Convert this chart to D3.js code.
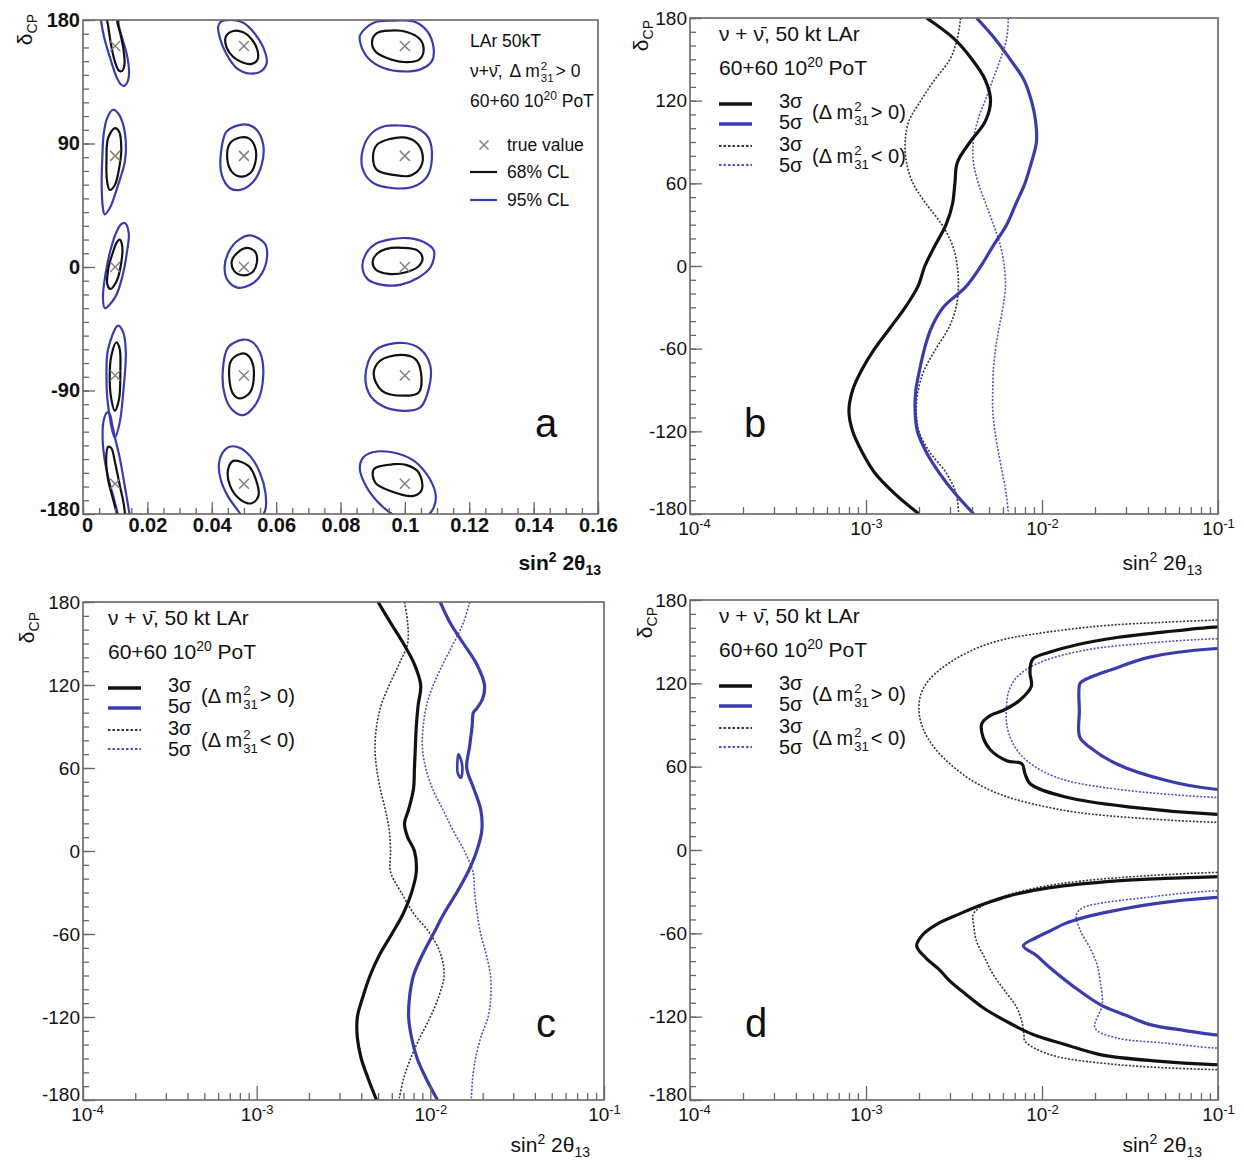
<!DOCTYPE html>
<html><head><meta charset="utf-8">
<script src="https://cdn.jsdelivr.net/npm/d3@7"></script>
<style>
body{margin:0;background:#fff;}
text{font-family:"Liberation Sans",Arial,Helvetica,sans-serif;fill:#111;}
</style></head>
<body>
<svg id="chart" width="1244" height="1166" xmlns="http://www.w3.org/2000/svg"></svg>
<script>
// ================= DATA =================
const deltaMajorA = [-180, -90, 0, 90, 180];
const deltaMajor = [-180, -120, -60, 0, 60, 120, 180];
const sinTicksA = [0, 0.02, 0.04, 0.06, 0.08, 0.1, 0.12, 0.14, 0.16];
const logDecades = [1e-4, 1e-3, 1e-2, 1e-1];
const logExponents = ["-4", "-3", "-2", "-1"];

// panel a: true values [sin^2 2theta13, deltaCP]
const trueValues = [[0.01,161],[0.05,161],[0.1,161],[0.01,81],[0.05,81],[0.1,81],[0.01,0],[0.05,0],[0.1,0],[0.01,-79],[0.05,-79],[0.1,-79],[0.01,-158],[0.05,-158],[0.1,-158]];

// panel a: 95% CL contours [x, delta]
const a95_r1c1 = [[0.0054,188],[0.0057,178],[0.0066,167],[0.0078,157],[0.0090,148],[0.0105,138],[0.0118,133],[0.0128,132],[0.0140,136],[0.0143,143],[0.0136,155],[0.0123,166],[0.0111,176],[0.0104,188]];
const a95_r1c2 = [[0.0420,175],[0.0425,167],[0.0446,155],[0.0477,145],[0.0519,141],[0.0555,143],[0.0571,149],[0.0560,160],[0.0534,170],[0.0498,178],[0.0457,180],[0.0427,178.5]];
const a95_r1c3 = [[0.0861,169],[0.0903,178],[0.0965,179.5],[0.1027,179],[0.1069,172],[0.1089,160],[0.1084,150],[0.1048,144],[0.0996,142.5],[0.0934,145],[0.0887,152],[0.0863,162]];
const a95_r2c1 = [[0.0093,114.6],[0.0075,108.5],[0.0064,96.3],[0.0060,79.3],[0.0058,59.8],[0.0062,42.8],[0.0067,38.4],[0.0083,42.8],[0.0109,59.8],[0.0130,76.8],[0.0133,91.4],[0.0122,106],[0.0109,112]];
const a95_r2c2 = [[0.0488,103.6],[0.0446,98.7],[0.0429,84.1],[0.0431,67.1],[0.0457,57.4],[0.0488,56.2],[0.0529,62.2],[0.0555,74.4],[0.0560,89],[0.0540,99.9],[0.0514,103.6]];
const a95_r2c3 = [[0.0934,102.4],[0.0892,96.3],[0.0866,81.7],[0.0872,69.5],[0.0903,61],[0.0965,57.4],[0.1027,58.6],[0.1069,65.9],[0.1084,79.3],[0.1074,93.9],[0.1038,101.2],[0.0986,103.1]];
const a95_r3c1 = [[0.0130,32],[0.0142,25],[0.0136,10],[0.0121,-8],[0.0100,-22],[0.0068,-30],[0.0062,-22],[0.0070,-5],[0.0085,12],[0.0105,26],[0.0118,31]];
const a95_r3c2 = [[0.0520,23],[0.0565,17],[0.0572,8],[0.0555,-5],[0.0520,-13],[0.0480,-15],[0.0450,-10],[0.0440,0],[0.0455,12],[0.0485,20]];
const a95_r3c3 = [[0.0950,20],[0.1010,21],[0.1060,18],[0.1090,12],[0.1080,0],[0.1040,-8],[0.0985,-13],[0.0930,-13],[0.0885,-9],[0.0868,0],[0.0880,10],[0.0910,17]];
const a95_r4c1 = [[0.0109,-42.7],[0.0078,-59.8],[0.0073,-79.2],[0.0078,-101.1],[0.0099,-124.2],[0.0114,-113.3],[0.0125,-91.4],[0.0133,-62.2],[0.0125,-47.6]];
const a95_r4c2 = [[0.0498,-52.9],[0.0451,-58.5],[0.0434,-76.8],[0.0441,-93.8],[0.0462,-103.6],[0.0498,-107.9],[0.0540,-98.7],[0.0560,-79.2],[0.0550,-62.2],[0.0524,-54.4]];
const a95_r4c3 = [[0.0996,-55.4],[0.0913,-59.8],[0.0880,-74.4],[0.0887,-91.4],[0.0929,-101.1],[0.0996,-104.8],[0.1048,-102.3],[0.1074,-89],[0.1079,-71.9],[0.1048,-59.8]];
const a95_r5c1 = [[0.0075,-106],[0.0064,-112],[0.0061,-125],[0.0067,-140],[0.0080,-155],[0.0095,-168],[0.0108,-180],[0.0115,-190],[0.0150,-190],[0.0143,-178],[0.0130,-160],[0.0115,-140],[0.0100,-125],[0.0090,-114],[0.0083,-107]];
const a95_r5c2 = [[0.0455,-131],[0.0432,-136],[0.0422,-144],[0.0428,-155],[0.0450,-167],[0.0480,-177],[0.0505,-184],[0.0540,-184],[0.0565,-178],[0.0567,-165],[0.0550,-150],[0.0520,-138],[0.0490,-132]];
const a95_r5c3 = [[0.0900,-135],[0.0870,-139],[0.0860,-147],[0.0880,-160],[0.0915,-171],[0.0960,-180],[0.1000,-185],[0.1060,-183],[0.1090,-175],[0.1095,-165],[0.1065,-150],[0.1020,-140],[0.0960,-135]];

// panel a: 68% CL contours [x, delta]
const a68_r1c1 = [[0.0074,184],[0.0078,176],[0.0088,161],[0.0100,149],[0.0112,143],[0.0122,143],[0.0129,148],[0.0126,158],[0.0118,168],[0.0108,177],[0.0100,184]];
const a68_r1c2 = [[0.0467,172],[0.0444,168],[0.0446,160],[0.0467,153],[0.0496,149],[0.0524,148],[0.0542,151],[0.0542,158],[0.0524,166],[0.0498,171]];
const a68_r1c3 = [[0.0898,164.5],[0.0913,170.5],[0.0955,172.3],[0.1006,171.3],[0.1048,165.7],[0.1058,157.2],[0.1043,151],[0.0996,149.4],[0.0944,152.3],[0.0908,157.2]];
const a68_r2c1 = [[0.0099,101.2],[0.0078,93.9],[0.0073,79.3],[0.0075,62.2],[0.0083,56.2],[0.0099,59.8],[0.0114,74.4],[0.0119,86.6],[0.0112,98.7]];
const a68_r2c2 = [[0.0488,94.4],[0.0457,90.2],[0.0448,79.3],[0.0462,69.5],[0.0488,65.9],[0.0519,68.3],[0.0536,76.8],[0.0534,87.8],[0.0514,93.9]];
const a68_r2c3 = [[0.0955,93.4],[0.0913,89],[0.0901,79.3],[0.0913,70.8],[0.0965,67.1],[0.1017,66.6],[0.1050,73.2],[0.1053,84.1],[0.1032,91.4],[0.0996,94.4]];
const a68_r3c1 = [[0.0114,20],[0.0122,15],[0.0118,2],[0.0105,-10],[0.0085,-16],[0.0076,-13],[0.0078,-2],[0.0092,10],[0.0105,18]];
const a68_r3c2 = [[0.0508,14],[0.0535,11],[0.0540,3],[0.0525,-4],[0.0495,-6],[0.0470,-3],[0.0462,4],[0.0478,10]];
const a68_r3c3 = [[0.0940,13],[0.0990,14],[0.1040,12],[0.1055,6],[0.1040,0],[0.1000,-4],[0.0950,-5],[0.0910,-2],[0.0900,4],[0.0915,10]];
const a68_r4c1 = [[0.0104,-54.9],[0.0088,-64.6],[0.0083,-79.2],[0.0088,-96.3],[0.0099,-104.8],[0.0112,-96.3],[0.0116,-76.8],[0.0114,-59.8]];
const a68_r4c2 = [[0.0488,-63.4],[0.0460,-68.3],[0.0454,-79.2],[0.0467,-92.6],[0.0488,-95.8],[0.0519,-91.4],[0.0531,-79.2],[0.0524,-68.3],[0.0506,-63.4]];
const a68_r4c3 = [[0.0986,-64.1],[0.0923,-68.3],[0.0903,-78],[0.0929,-90.2],[0.0996,-93.8],[0.1043,-91.4],[0.1050,-76.8],[0.1032,-67]];
const a68_r5c1 = [[0.0078,-131],[0.0072,-140],[0.0078,-155],[0.0092,-168],[0.0105,-180],[0.0110,-186],[0.0128,-186],[0.0128,-175],[0.0115,-160],[0.0100,-143],[0.0088,-132]];
const a68_r5c2 = [[0.0467,-141.3],[0.0451,-147.4],[0.0457,-159.5],[0.0488,-169.3],[0.0524,-172.2],[0.0545,-166.8],[0.0537,-154.7],[0.0514,-144.9]];
const a68_r5c3 = [[0.0965,-143.7],[0.0903,-147.4],[0.0908,-157.1],[0.0955,-163.2],[0.1027,-166.8],[0.1053,-162],[0.1043,-149.8],[0.1006,-144.4]];

// panel b: [deltaCP, sin^2 2theta13]
const b_3sigma_NH = [[180,2.21e-3],[165,3.16e-3],[150,4.0e-3],[135,4.76e-3],[120,5.1e-3],[105,4.76e-3],[90,3.9e-3],[75,3.3e-3],[60,3.2e-3],[45,3.1e-3],[30,2.85e-3],[15,2.47e-3],[0,2.16e-3],[-15,1.97e-3],[-30,1.67e-3],[-45,1.37e-3],[-60,1.12e-3],[-75,0.95e-3],[-90,0.84e-3],[-105,0.80e-3],[-120,0.84e-3],[-135,0.95e-3],[-150,1.12e-3],[-165,1.45e-3],[-180,2.0e-3]];
const b_5sigma_NH = [[180,4.25e-3],[165,5.4e-3],[150,6.6e-3],[135,7.9e-3],[120,8.7e-3],[105,9.2e-3],[90,9.3e-3],[75,8.7e-3],[60,8.0e-3],[45,7.1e-3],[30,6.3e-3],[15,5.3e-3],[0,4.5e-3],[-15,3.7e-3],[-30,2.75e-3],[-45,2.35e-3],[-60,2.15e-3],[-75,2.02e-3],[-90,1.92e-3],[-105,1.9e-3],[-120,1.96e-3],[-135,2.2e-3],[-150,2.6e-3],[-165,3.2e-3],[-180,4.1e-3]];
const b_3sigma_IH = [[180,3.45e-3],[165,3.3e-3],[150,3.0e-3],[135,2.45e-3],[120,2.05e-3],[105,1.75e-3],[90,1.67e-3],[75,1.7e-3],[60,1.85e-3],[45,2.2e-3],[30,2.7e-3],[15,3.1e-3],[0,3.3e-3],[-15,3.35e-3],[-30,3.25e-3],[-45,2.95e-3],[-60,2.5e-3],[-75,2.15e-3],[-90,1.98e-3],[-105,1.93e-3],[-120,2.0e-3],[-135,2.3e-3],[-150,2.85e-3],[-165,3.25e-3],[-180,3.36e-3]];
const b_5sigma_IH = [[180,6.44e-3],[165,6.3e-3],[150,5.8e-3],[135,5.25e-3],[120,4.75e-3],[105,4.3e-3],[90,4.07e-3],[75,4.08e-3],[60,4.35e-3],[45,4.8e-3],[30,5.3e-3],[15,5.8e-3],[0,6.1e-3],[-15,6.2e-3],[-30,6.0e-3],[-45,5.7e-3],[-60,5.45e-3],[-75,5.3e-3],[-90,5.25e-3],[-105,5.25e-3],[-120,5.4e-3],[-135,5.65e-3],[-150,5.95e-3],[-165,6.25e-3],[-180,6.45e-3]];

// panel c: [deltaCP, sin^2 2theta13]
const c_3sigma_NH = [[180,5.0e-3],[165,5.9e-3],[150,7.0e-3],[135,8.1e-3],[120,8.8e-3],[105,8.5e-3],[90,8.3e-3],[75,8.2e-3],[60,8.1e-3],[45,8.0e-3],[30,7.5e-3],[20,7.1e-3],[10,7.4e-3],[0,8.1e-3],[-15,8.3e-3],[-30,7.8e-3],[-45,7.0e-3],[-60,6.0e-3],[-75,5.1e-3],[-90,4.5e-3],[-105,4.1e-3],[-120,3.8e-3],[-135,3.8e-3],[-150,4.0e-3],[-165,4.4e-3],[-180,4.9e-3]];
const c_5sigma_NH = [[180,1.14e-2],[165,1.30e-2],[150,1.55e-2],[135,1.85e-2],[120,2.05e-2],[110,2.0e-2],[103,1.85e-2],[100,1.77e-2],[90,1.74e-2],[75,1.68e-2],[60,1.62e-2],[45,1.78e-2],[30,1.95e-2],[15,1.98e-2],[0,1.85e-2],[-15,1.65e-2],[-30,1.42e-2],[-45,1.2e-2],[-60,1.04e-2],[-75,9.0e-3],[-90,8.0e-3],[-105,7.6e-3],[-120,7.5e-3],[-135,7.8e-3],[-150,8.4e-3],[-165,9.5e-3],[-180,1.1e-2]];
const c_5sigma_NH_island = [[70,1.45e-2],[66,1.5e-2],[60,1.53e-2],[53,1.5e-2],[56,1.44e-2],[63,1.43e-2]];
const c_3sigma_IH = [[180,7.1e-3],[165,7.4e-3],[150,7.4e-3],[135,6.6e-3],[120,5.8e-3],[105,5.2e-3],[90,4.9e-3],[75,4.8e-3],[60,4.9e-3],[45,5.15e-3],[30,5.5e-3],[15,5.8e-3],[0,5.9e-3],[-15,5.9e-3],[-30,6.8e-3],[-45,8.0e-3],[-60,1.0e-2],[-75,1.15e-2],[-90,1.2e-2],[-105,1.12e-2],[-120,1.0e-2],[-135,8.7e-3],[-150,7.7e-3],[-165,7.0e-3],[-180,6.6e-3]];
const c_5sigma_IH = [[180,1.69e-2],[165,1.55e-2],[150,1.36e-2],[135,1.18e-2],[120,1.04e-2],[105,9.5e-3],[90,9.1e-3],[75,9.0e-3],[60,9.4e-3],[45,1.03e-2],[30,1.18e-2],[15,1.35e-2],[0,1.57e-2],[-15,1.76e-2],[-30,1.8e-2],[-45,1.86e-2],[-60,1.95e-2],[-75,2.1e-2],[-90,2.22e-2],[-105,2.23e-2],[-120,2.15e-2],[-135,1.95e-2],[-150,1.82e-2],[-165,1.75e-2],[-180,1.72e-2]];

// panel d: contours [sin^2 2theta13, deltaCP]
const d_3sigma_NH_up = [[0.12,161],[0.094,160.5],[0.05,157],[0.0266,153],[0.016,148],[0.0111,142.5],[0.0089,137.7],[0.0086,133],[0.00855,127],[0.0087,118],[0.0075,108],[0.006,100.4],[0.0051,97],[0.00455,91],[0.00463,81],[0.0051,72],[0.0063,64.3],[0.0077,62],[0.008,55],[0.0086,47.5],[0.0138,38],[0.033,30.7],[0.094,25.8],[0.12,25.5]];
const d_5sigma_NH_up = [[0.12,145],[0.094,144.9],[0.041,138.9],[0.025,130],[0.0172,122],[0.0164,119.6],[0.0163,100],[0.0164,81.2],[0.0187,74],[0.0266,61.9],[0.051,50],[0.094,43.9],[0.12,43.5]];
const d_3sigma_IH_up = [[0.12,166],[0.094,165.5],[0.05,164],[0.025,162],[0.0145,159],[0.0085,155],[0.0058,151],[0.0042,145],[0.0030,135],[0.0023,123],[0.00205,112],[0.0020,100],[0.0021,88],[0.0024,75],[0.0030,62],[0.0040,50],[0.0058,40],[0.0090,33],[0.016,27],[0.035,23],[0.094,20],[0.12,20]];
const d_5sigma_IH_up = [[0.12,152],[0.094,152],[0.04,149],[0.0172,143.7],[0.0093,134],[0.0072,124.5],[0.0065,115],[0.0063,105],[0.0063,91],[0.0066,81],[0.0072,72],[0.0082,64.3],[0.0100,57],[0.0138,50],[0.03,43],[0.094,37.9],[0.12,37.5]];
const d_3sigma_NH_low = [[0.12,-19],[0.094,-19.3],[0.05,-20.5],[0.0266,-22.2],[0.0111,-27.1],[0.0065,-33],[0.00463,-39.1],[0.0034,-46],[0.00252,-53.5],[0.0021,-61],[0.00194,-69],[0.0022,-78],[0.0026,-86],[0.0030,-94.4],[0.0037,-104],[0.00463,-113.6],[0.0062,-123],[0.0089,-132.9],[0.0135,-140],[0.0214,-147.3],[0.045,-152],[0.094,-154.5],[0.12,-154.7]];
const d_5sigma_NH_low = [[0.12,-34],[0.094,-34.3],[0.041,-39.1],[0.025,-44],[0.0172,-48.7],[0.0135,-53],[0.0111,-58.3],[0.0093,-63],[0.00783,-69],[0.0093,-76],[0.0111,-84.8],[0.0150,-98],[0.0214,-111.3],[0.030,-119],[0.0411,-125.7],[0.065,-130],[0.094,-132.9],[0.12,-133]];
const d_3sigma_IH_low = [[0.12,-16],[0.094,-16.2],[0.04,-18.5],[0.0172,-22.2],[0.0095,-27],[0.00577,-34.3],[0.0046,-40],[0.00407,-46.3],[0.0041,-55],[0.00424,-65.5],[0.0047,-77],[0.00528,-89.6],[0.0062,-102],[0.0072,-113.6],[0.0077,-124],[0.0079,-133],[0.0080,-137.7],[0.0111,-147.3],[0.0266,-154.5],[0.094,-158.1],[0.12,-158.2]];
const d_5sigma_IH_low = [[0.12,-29.5],[0.094,-29.5],[0.04,-34],[0.0172,-41.5],[0.0157,-46.3],[0.0165,-58],[0.0187,-70.3],[0.0205,-82],[0.0214,-94.4],[0.0220,-111.3],[0.0200,-128.1],[0.0266,-135.3],[0.05,-139],[0.094,-142.5],[0.12,-142.6]];

// ================= DRAWING =================
const svg = d3.select('#chart');
svg.append('rect').attr('width',1244).attr('height',1166).attr('fill','#fff');
const defs = svg.append('defs');
const FRAME = '#6f6461';
const BLUE = '#3a3cae';
const BLUE_DOT = '#5550c4';
const BLACK = '#111';
const BLACK_DOT = '#3a3333';
const MARK = '#8b7d7a';

const boxes = {
  a: {l: 83, r: 598, t: 20, b: 514},
  b: {l: 690, r: 1218, t: 18, b: 514},
  c: {l: 83, r: 604, t: 602, b: 1100},
  d: {l: 690, r: 1218, t: 600, b: 1100}
};

function makePanel(id, xScale) {
  const box = boxes[id];
  const y = d3.scaleLinear().domain([-180, 180]).range([box.b, box.t]);
  const x = xScale.range([box.l, box.r]);
  defs.append('clipPath').attr('id', 'clip-' + id).append('rect')
    .attr('x', box.l).attr('y', box.t).attr('width', box.r - box.l).attr('height', box.b - box.t);
  const g = svg.append('g').attr('class', 'panel-' + id);
  const plot = g.append('g').attr('clip-path', `url(#clip-${id})`);
  return {id, x, y, g, plot, box};
}

function styleAxis(sel) {
  sel.attr('font-family', null).attr('font-size', null);
  sel.select('.domain').remove();
  sel.selectAll('line').attr('stroke', FRAME).attr('stroke-width', 1.3);
  sel.selectAll('text').attr('fill', '#111');
}

function drawYAxis(P, majors, fs, fw) {
  const minors = d3.range(-180, 181, 10);
  P.g.append('g').attr('transform', `translate(${P.box.l},0)`)
    .call(d3.axisLeft(P.y).tickValues(minors).tickSize(-6).tickFormat(''))
    .call(styleAxis);
  const ax = P.g.append('g').attr('transform', `translate(${P.box.l},0)`)
    .call(d3.axisLeft(P.y).tickValues(majors).tickSize(-12).tickPadding(3).tickFormat(d => String(d)))
    .call(styleAxis);
  ax.selectAll('text').attr('font-size', fs).attr('font-weight', fw);
  // lift the bottom label slightly, as in the original
  ax.selectAll('.tick').filter(d => d === -180).select('text').attr('dy', '0.05em');
}

function drawLinearXAxis(P) {
  const minors = d3.range(0, 0.1601, 0.005);
  P.g.append('g').attr('transform', `translate(0,${P.box.b})`)
    .call(d3.axisBottom(P.x).tickValues(minors).tickSize(-6).tickFormat(''))
    .call(styleAxis);
  const ax = P.g.append('g').attr('transform', `translate(0,${P.box.b})`)
    .call(d3.axisBottom(P.x).tickValues(sinTicksA).tickSize(-12).tickPadding(4)
      .tickFormat(d => String(+d.toFixed(2))))
    .call(styleAxis);
  ax.selectAll('text').attr('font-size', 20).attr('font-weight', 'bold');
  ax.selectAll('.tick').filter(d => d === 0).select('text').attr('dx', 4);
}

function drawLogXAxis(P) {
  const minors = [];
  logDecades.slice(0, 3).forEach(d => { for (let m = 2; m <= 9; m++) minors.push(m * d); });
  P.g.append('g').attr('transform', `translate(0,${P.box.b})`)
    .call(d3.axisBottom(P.x).tickValues(minors).tickSize(-7).tickFormat(''))
    .call(styleAxis);
  const ax = P.g.append('g').attr('transform', `translate(0,${P.box.b})`)
    .call(d3.axisBottom(P.x).tickValues(logDecades).tickSize(-14).tickPadding(7).tickFormat(''))
    .call(styleAxis);
  ax.selectAll('.tick text').each(function(d, i) {
    const t = d3.select(this).attr('font-size', 19).attr('dy', '0.72em');
    if (i === 0) t.attr('dx', 4);
    t.append('tspan').text('10');
    t.append('tspan').attr('dy', -7).attr('font-size', 13).text(logExponents[i]);
  });
}

function drawFrame(P) {
  P.g.append('rect').attr('x', P.box.l).attr('y', P.box.t)
    .attr('width', P.box.r - P.box.l).attr('height', P.box.b - P.box.t)
    .attr('fill', 'none').attr('stroke', FRAME).attr('stroke-width', 1.6);
}

function deltaTitle(x, yTop) {
  const t = svg.append('text').attr('transform', `translate(${x},${yTop}) rotate(-90)`)
    .attr('text-anchor', 'end').attr('font-size', 21);
  t.append('tspan').text('δ');
  t.append('tspan').attr('dy', 5).attr('font-size', 14).text('CP');
}

function sinTitle(xRight, yBase, bold) {
  const t = svg.append('text').attr('x', xRight).attr('y', yBase).attr('text-anchor', 'end')
    .attr('font-size', 21).attr('font-weight', bold ? 'bold' : 'normal');
  t.append('tspan').text('sin');
  t.append('tspan').attr('dy', -8).attr('font-size', 14).text('2');
  t.append('tspan').attr('dy', 8).text(' 2θ');
  t.append('tspan').attr('dy', 5).attr('font-size', 14).text('13');
}

function panelLetter(x, y, s) {
  svg.append('text').attr('x', x).attr('y', y).attr('text-anchor', 'middle')
    .attr('font-size', 40).text(s);
}

// Δm²31 with stacked super/subscript
function massLabel(g, x, y, fs, prefix, sign) {
  const t1 = g.append('text').attr('x', x).attr('y', y).attr('font-size', fs).text(prefix + 'm');
  const w1 = t1.node().getComputedTextLength();
  g.append('text').attr('x', x + w1 + 1).attr('y', y - fs * 0.42).attr('font-size', fs * 0.66).text('2');
  const t3 = g.append('text').attr('x', x + w1 + 1).attr('y', y + fs * 0.28).attr('font-size', fs * 0.66).text('31');
  const w3 = t3.node().getComputedTextLength();
  g.append('text').attr('x', x + w1 + w3 + 3).attr('y', y).attr('font-size', fs).text(sign);
}

const curveDX = (P) => d3.line().x(d => P.x(d[1])).y(d => P.y(d[0])).curve(d3.curveCatmullRom.alpha(0.5));
const curveXD = (P) => d3.line().x(d => P.x(d[0])).y(d => P.y(d[1])).curve(d3.curveCatmullRom.alpha(0.5));
const closedXD = (P) => d3.line().x(d => P.x(d[0])).y(d => P.y(d[1])).curve(d3.curveCatmullRomClosed.alpha(0.5));

function strokePath(P, gen, data, color, w, dash) {
  const p = P.plot.append('path').attr('d', gen(data)).attr('fill', 'none')
    .attr('stroke', color).attr('stroke-width', w).attr('stroke-linejoin', 'round');
  if (dash) p.attr('stroke-dasharray', dash);
}

function legendBCD(P, dx) {
  const L = P.box.l + dx, T = P.box.t;
  const g = P.g;
  const t1 = g.append('text').attr('x', L).attr('y', T + 23).attr('font-size', 21);
  t1.append('tspan').text('ν + ν\u0304, 50 kt LAr');
  const t2 = g.append('text').attr('x', L).attr('y', T + 57).attr('font-size', 21);
  t2.append('tspan').text('60+60 10');
  t2.append('tspan').attr('dy', -8).attr('font-size', 14).text('20');
  t2.append('tspan').attr('dy', 8).text(' PoT');
  const items = [
    {y: 86, color: BLACK, w: 3.4, dash: null},
    {y: 106, color: BLUE, w: 3.4, dash: null},
    {y: 128, color: BLACK_DOT, w: 2, dash: '2.5,2'},
    {y: 147, color: BLUE_DOT, w: 2, dash: '2.5,2'}
  ];
  items.forEach(it => {
    const ln = g.append('line').attr('x1', L).attr('x2', L + 33).attr('y1', T + it.y).attr('y2', T + it.y)
      .attr('stroke', it.color).attr('stroke-width', it.w);
    if (it.dash) ln.attr('stroke-dasharray', it.dash);
  });
  g.append('text').attr('x', L + 60).attr('y', T + 90).attr('font-size', 20).text('3σ');
  g.append('text').attr('x', L + 60).attr('y', T + 111).attr('font-size', 20).text('5σ');
  massLabel(g, L + 93, T + 101, 20, '(Δ ', '> 0)');
  g.append('text').attr('x', L + 60).attr('y', T + 133).attr('font-size', 20).text('3σ');
  g.append('text').attr('x', L + 60).attr('y', T + 154).attr('font-size', 20).text('5σ');
  massLabel(g, L + 93, T + 145, 20, '(Δ ', '< 0)');
}

// ---------- Panel a ----------
{
  const P = makePanel('a', d3.scaleLinear().domain([0, 0.16]));
  const gen = closedXD(P);
  const c95 = [a95_r1c1,a95_r1c2,a95_r1c3,a95_r2c1,a95_r2c2,a95_r2c3,a95_r3c1,a95_r3c2,a95_r3c3,a95_r4c1,a95_r4c2,a95_r4c3,a95_r5c1,a95_r5c2,a95_r5c3];
  const c68 = [a68_r1c1,a68_r1c2,a68_r1c3,a68_r2c1,a68_r2c2,a68_r2c3,a68_r3c1,a68_r3c2,a68_r3c3,a68_r4c1,a68_r4c2,a68_r4c3,a68_r5c1,a68_r5c2,a68_r5c3];
  c95.forEach(c => strokePath(P, gen, c, BLUE, 2.2));
  c68.forEach(c => strokePath(P, gen, c, BLACK, 2.2));
  P.plot.selectAll('path.mark').data(trueValues).enter().append('path').attr('class', 'mark')
    .attr('transform', d => `translate(${P.x(d[0])},${P.y(d[1])})`)
    .attr('d', 'M-5,-5L5,5M-5,5L5,-5').attr('stroke', MARK).attr('stroke-width', 1.5);
  drawYAxis(P, deltaMajorA, 20, 'bold');
  drawLinearXAxis(P);
  drawFrame(P);
  // legend
  const g = P.g, L = 470, FS = 17.5;
  g.append('text').attr('x', L).attr('y', 47).attr('font-size', FS).text('LAr 50kT');
  const t = g.append('text').attr('x', L).attr('y', 77).attr('font-size', FS);
  t.text('ν+ν\u0304,');
  const w = t.node().getComputedTextLength();
  massLabel(g, L + w + 7, 77, FS, 'Δ ', '> 0');
  const t3 = g.append('text').attr('x', L).attr('y', 107).attr('font-size', FS);
  t3.append('tspan').text('60+60 10');
  t3.append('tspan').attr('dy', -7).attr('font-size', 12).text('20');
  t3.append('tspan').attr('dy', 7).text(' PoT');
  g.append('path').attr('transform', 'translate(484,145)').attr('d', 'M-4.5,-4.5L4.5,4.5M-4.5,4.5L4.5,-4.5')
    .attr('stroke', MARK).attr('stroke-width', 1.5);
  g.append('text').attr('x', 507).attr('y', 151).attr('font-size', FS).text('true value');
  g.append('line').attr('x1', L).attr('x2', 497).attr('y1', 172).attr('y2', 172).attr('stroke', BLACK).attr('stroke-width', 2.2);
  g.append('text').attr('x', 507).attr('y', 178).attr('font-size', FS).text('68% CL');
  g.append('line').attr('x1', L).attr('x2', 497).attr('y1', 200).attr('y2', 200).attr('stroke', BLUE).attr('stroke-width', 2.2);
  g.append('text').attr('x', 507).attr('y', 206).attr('font-size', FS).text('95% CL');
  deltaTitle(32, 14);
  sinTitle(601, 570, true);
  panelLetter(546, 437, 'a');
}

// ---------- Panel b ----------
{
  const P = makePanel('b', d3.scaleLog().domain([1e-4, 1e-1]));
  const gen = curveDX(P);
  strokePath(P, gen, b_3sigma_IH, BLACK_DOT, 1.6, '2,1.6');
  strokePath(P, gen, b_5sigma_IH, BLUE_DOT, 1.6, '2,1.6');
  strokePath(P, gen, b_3sigma_NH, BLACK, 3.2);
  strokePath(P, gen, b_5sigma_NH, BLUE, 3.2);
  drawYAxis(P, deltaMajor, 19, 'normal');
  drawLogXAxis(P);
  drawFrame(P);
  legendBCD(P, 29);
  deltaTitle(648, 20);
  sinTitle(1202, 570, false);
  panelLetter(755, 437, 'b');
}

// ---------- Panel c ----------
{
  const P = makePanel('c', d3.scaleLog().domain([1e-4, 1e-1]));
  const gen = curveDX(P);
  strokePath(P, gen, c_3sigma_IH, BLACK_DOT, 1.6, '2,1.6');
  strokePath(P, gen, c_5sigma_IH, BLUE_DOT, 1.6, '2,1.6');
  strokePath(P, gen, c_3sigma_NH, BLACK, 3.2);
  strokePath(P, gen, c_5sigma_NH, BLUE, 3.2);
  const island = d3.line().x(d => P.x(d[1])).y(d => P.y(d[0])).curve(d3.curveCatmullRomClosed.alpha(0.5));
  strokePath(P, island, c_5sigma_NH_island, BLUE, 2.6);
  drawYAxis(P, deltaMajor, 19, 'normal');
  drawLogXAxis(P);
  drawFrame(P);
  legendBCD(P, 25);
  deltaTitle(34, 612);
  sinTitle(590, 1152, false);
  panelLetter(546, 1037, 'c');
}

// ---------- Panel d ----------
{
  const P = makePanel('d', d3.scaleLog().domain([1e-4, 1e-1]));
  const gen = curveXD(P);
  strokePath(P, gen, d_3sigma_IH_up, BLACK_DOT, 1.6, '2,1.6');
  strokePath(P, gen, d_5sigma_IH_up, BLUE_DOT, 1.6, '2,1.6');
  strokePath(P, gen, d_3sigma_IH_low, BLACK_DOT, 1.6, '2,1.6');
  strokePath(P, gen, d_5sigma_IH_low, BLUE_DOT, 1.6, '2,1.6');
  strokePath(P, gen, d_3sigma_NH_up, BLACK, 3.2);
  strokePath(P, gen, d_5sigma_NH_up, BLUE, 3.2);
  strokePath(P, gen, d_3sigma_NH_low, BLACK, 3.2);
  strokePath(P, gen, d_5sigma_NH_low, BLUE, 3.2);
  drawYAxis(P, deltaMajor, 19, 'normal');
  drawLogXAxis(P);
  drawFrame(P);
  legendBCD(P, 29);
  deltaTitle(652, 607);
  sinTitle(1202, 1152, false);
  panelLetter(756, 1037, 'd');
}
</script>
</body></html>
